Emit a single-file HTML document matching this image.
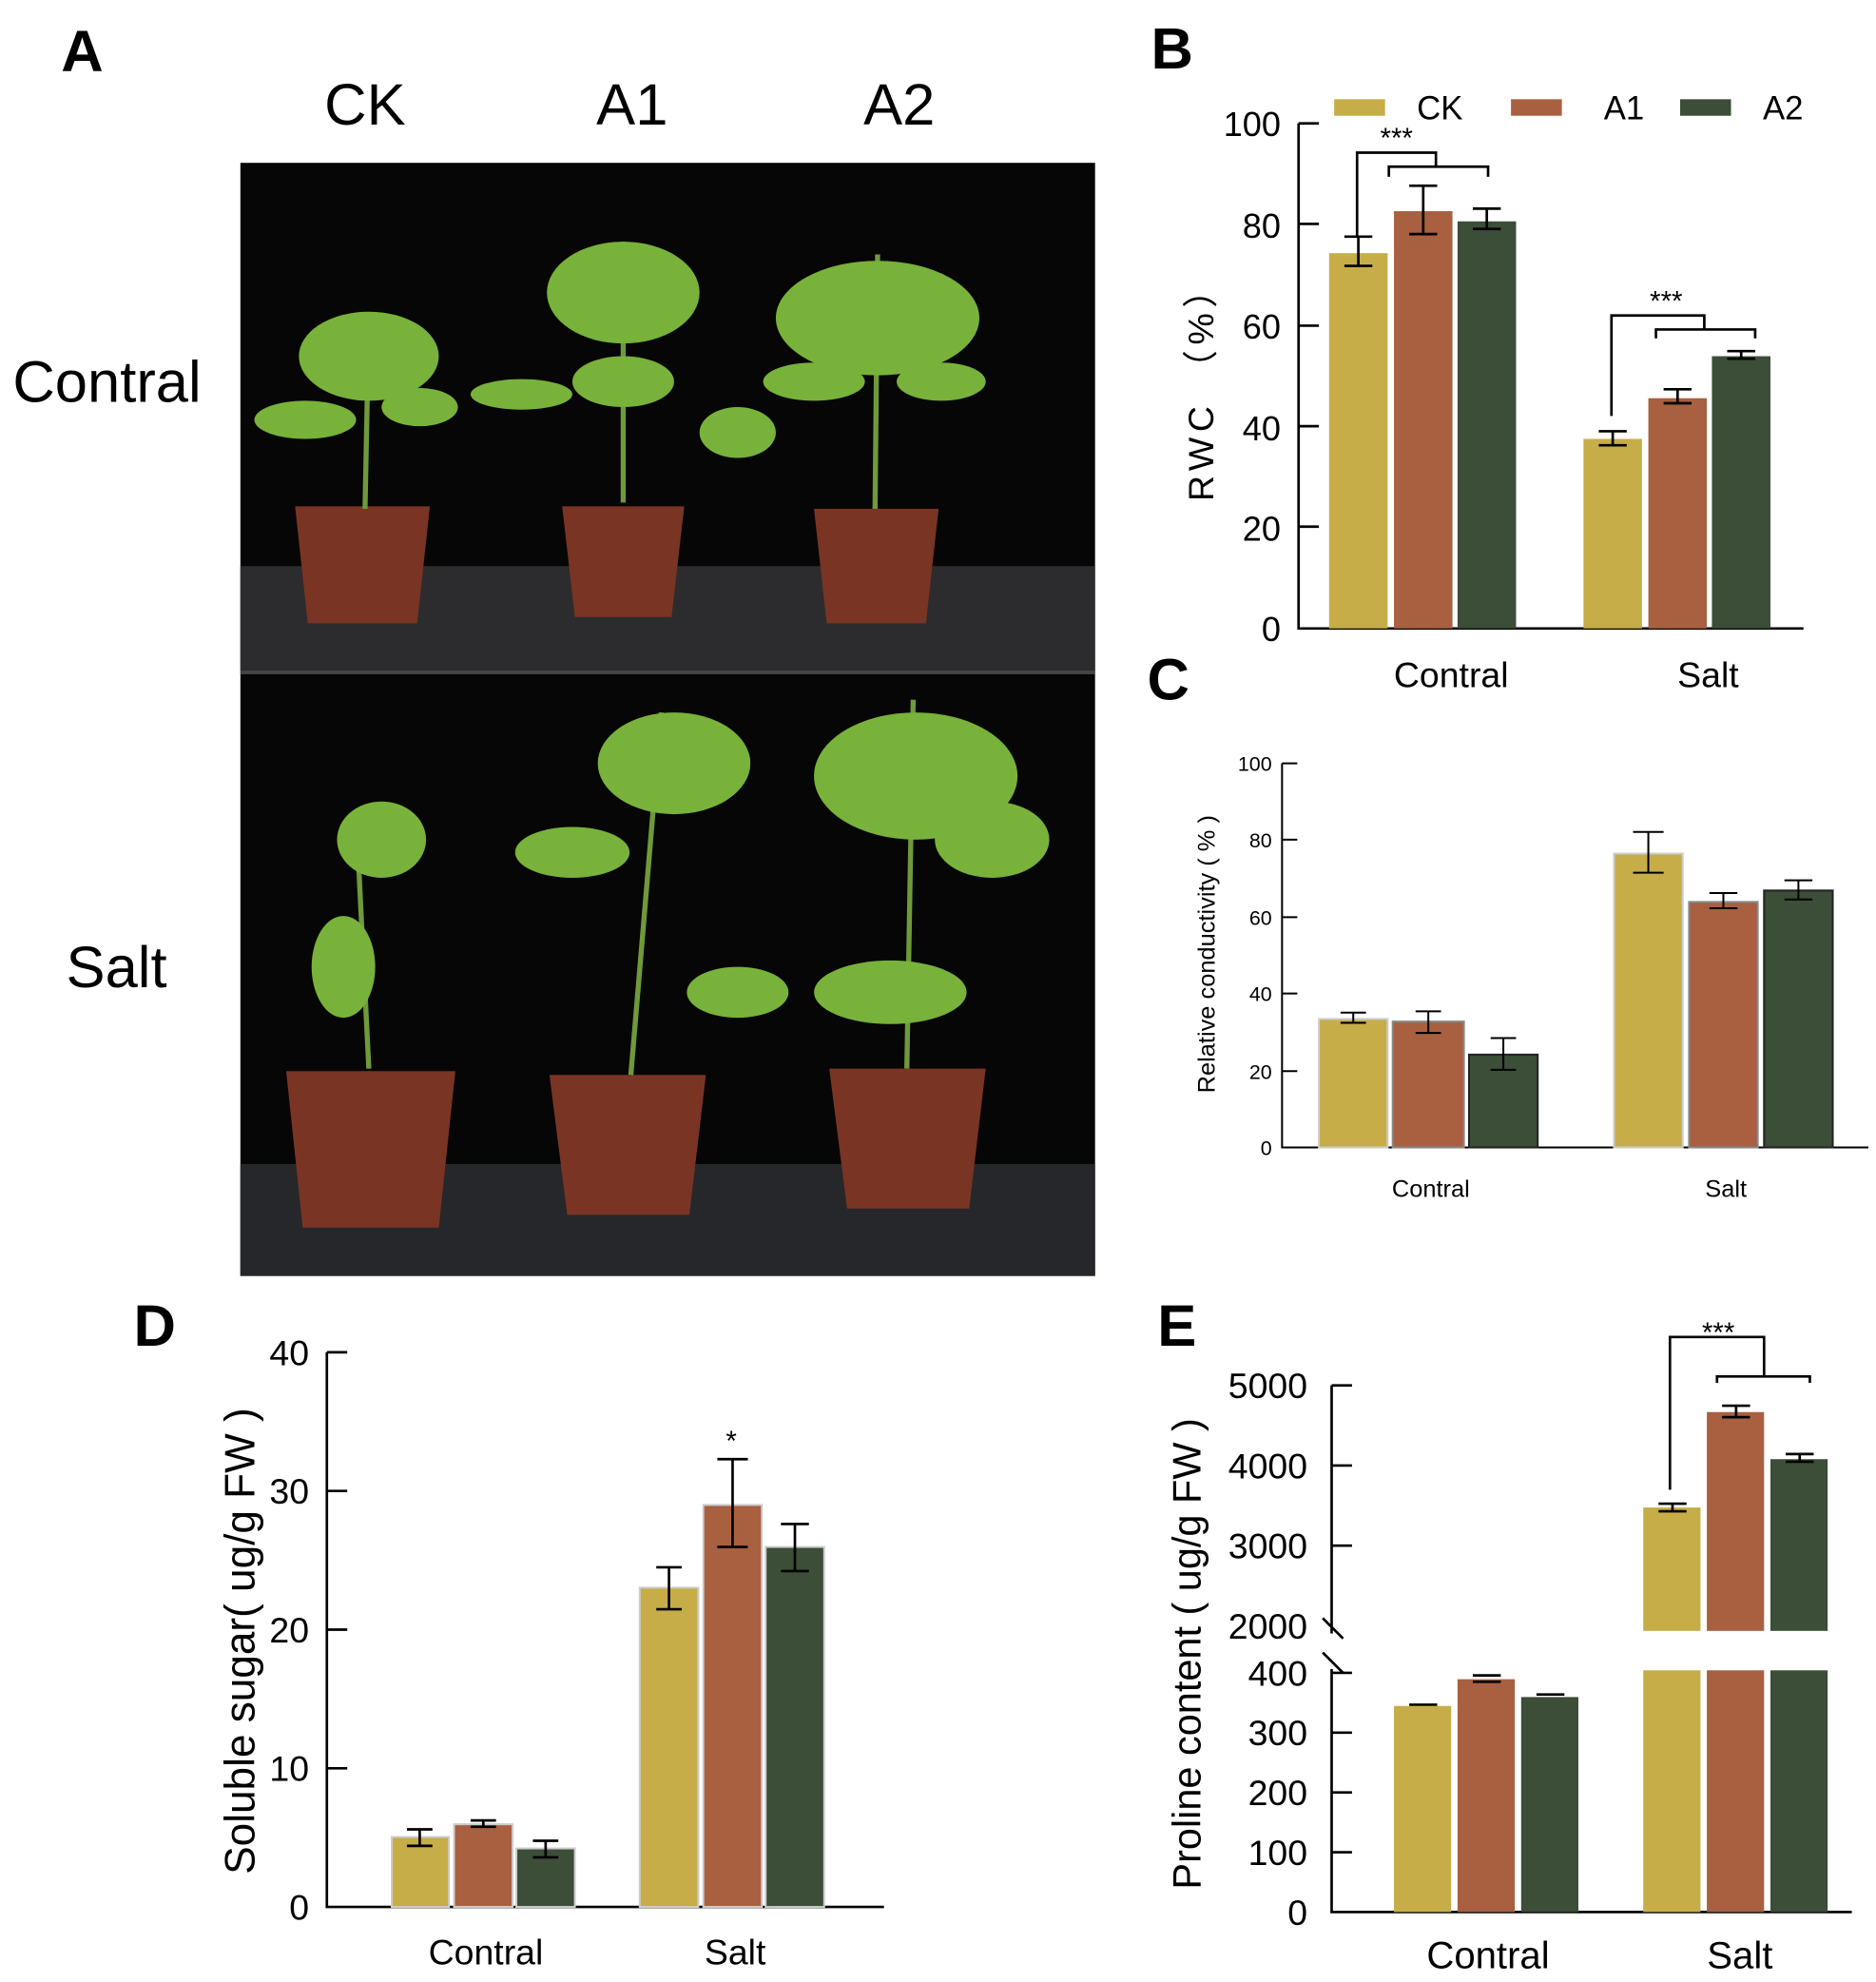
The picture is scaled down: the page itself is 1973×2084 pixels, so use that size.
<!DOCTYPE html>
<html><head><meta charset="utf-8"><style>html,body{margin:0;padding:0;background:#fff}svg{display:block}</style></head>
<body>
<svg width="1973" height="2084" viewBox="0 0 1475 1558" preserveAspectRatio="none" font-family="Liberation Sans, Noto Sans CJK SC, sans-serif">
<rect width="1475" height="1558" fill="#fff"/>
<!-- Panel A -->
<text x="48" y="56" font-size="46" font-weight="bold">A</text>
<text x="287" y="98" font-size="46" text-anchor="middle">CK</text>
<text x="497" y="98" font-size="46" text-anchor="middle">A1</text>
<text x="707" y="98" font-size="46" text-anchor="middle">A2</text>
<text x="10" y="316" font-size="46">Contral</text>
<text x="52" y="776" font-size="46">Salt</text>
<rect x="189" y="128" width="672" height="875" fill="#060606"/>
<rect x="189" y="445" width="672" height="82" fill="#2c2c2e"/>
<rect x="189" y="527" width="672" height="3" fill="#444"/>
<rect x="189" y="915" width="672" height="88" fill="#26272a"/>
<g fill="#7a3424">
<path d="M232 398 L338 398 L328 490 L242 490Z"/><path d="M442 398 L538 398 L528 485 L452 485Z"/><path d="M640 400 L738 400 L728 490 L650 490Z"/>
<path d="M225 842 L358 842 L345 965 L238 965Z"/><path d="M432 845 L555 845 L542 955 L446 955Z"/><path d="M652 840 L775 840 L762 950 L666 950Z"/>
</g>
<g stroke="#6f9a3a" stroke-width="4" fill="none">
<path d="M287 400 L290 250"/><path d="M490 395 L490 190"/><path d="M688 400 L690 200"/>
<path d="M290 840 L280 640"/><path d="M496 845 L520 560"/><path d="M713 840 L718 550"/>
</g>
<g fill="#78b23a">
<ellipse cx="290" cy="280" rx="55" ry="35"/><ellipse cx="240" cy="330" rx="40" ry="15"/><ellipse cx="330" cy="320" rx="30" ry="15"/>
<ellipse cx="490" cy="230" rx="60" ry="40"/><ellipse cx="410" cy="310" rx="40" ry="12"/><ellipse cx="580" cy="340" rx="30" ry="20"/><ellipse cx="490" cy="300" rx="40" ry="20"/>
<ellipse cx="690" cy="250" rx="80" ry="45"/><ellipse cx="640" cy="300" rx="40" ry="15"/><ellipse cx="740" cy="300" rx="35" ry="15"/>
<ellipse cx="300" cy="660" rx="35" ry="30"/><ellipse cx="270" cy="760" rx="25" ry="40"/>
<ellipse cx="530" cy="600" rx="60" ry="40"/><ellipse cx="450" cy="670" rx="45" ry="20"/><ellipse cx="580" cy="780" rx="40" ry="20"/>
<ellipse cx="720" cy="610" rx="80" ry="50"/><ellipse cx="780" cy="660" rx="45" ry="30"/><ellipse cx="700" cy="780" rx="60" ry="25"/>
</g>
<!-- Panel B -->
<text x="905" y="54" font-size="46" font-weight="bold">B</text>
<g font-size="27" text-anchor="end">
<text x="1007" y="107">100</text><text x="1007" y="187">80</text><text x="1007" y="266">60</text><text x="1007" y="346">40</text><text x="1007" y="425">20</text><text x="1007" y="504">0</text>
</g>
<path d="M1021 97 V494 H1418" stroke="#000" stroke-width="2" fill="none"/>
<g stroke="#000" stroke-width="2"><path d="M1021 97h16M1021 176h16M1021 256h16M1021 335h16M1021 414h16"/></g>
<text transform="translate(954,304) rotate(-90)" font-size="28" text-anchor="middle" textLength="180" lengthAdjust="spacing">RWC （%）</text>
<rect x="1049" y="78" width="40" height="13" fill="#c6ad48"/><text x="1114" y="94" font-size="26">CK</text>
<rect x="1188" y="78" width="40" height="13" fill="#a86040"/><text x="1261" y="94" font-size="26">A1</text>
<rect x="1321" y="78" width="40" height="13" fill="#3c4d38"/><text x="1386" y="94" font-size="26">A2</text>
<rect x="1045" y="199" width="46" height="295" fill="#c6ad48"/>
<rect x="1096" y="166" width="46" height="328" fill="#a86040"/>
<rect x="1146" y="174" width="46" height="320" fill="#3c4d38"/>
<rect x="1245" y="345" width="46" height="149" fill="#c6ad48"/>
<rect x="1296" y="313" width="46" height="181" fill="#a86040"/>
<rect x="1346" y="280" width="46" height="214" fill="#3c4d38"/>
<g stroke="#000" stroke-width="2" fill="none">
<path d="M1068 186V209M1057 186h22M1057 209h22"/><path d="M1119 146V184M1108 146h22M1108 184h22"/><path d="M1169 164V180M1158 164h22M1158 180h22"/>
<path d="M1268 339V350M1257 339h22M1257 350h22"/><path d="M1319 306V317M1308 306h22M1308 317h22"/><path d="M1369 276V282M1358 276h22M1358 282h22"/>
<path d="M1067 186V120H1129V131M1092 139V131H1170V139"/>
<path d="M1267 327V248H1340V259M1302 266V259H1380V266"/>
</g>
<text x="1098" y="116" font-size="22" text-anchor="middle">***</text>
<text x="1310" y="244" font-size="22" text-anchor="middle">***</text>
<text x="1141" y="540" font-size="28" text-anchor="middle">Contral</text>
<text x="1343" y="540" font-size="28" text-anchor="middle">Salt</text>
<!-- Panel C -->
<text x="902" y="550" font-size="46" font-weight="bold">C</text>
<path d="M1008 600 V902 H1469" stroke="#000" stroke-width="1.5" fill="none"/>
<g stroke="#000" stroke-width="1.5"><path d="M1008 600h12M1008 660h12M1008 721h12M1008 781h12M1008 842h12"/></g>
<g font-size="16" text-anchor="end">
<text x="1000" y="606">100</text><text x="1000" y="666">80</text><text x="1000" y="727">60</text><text x="1000" y="787">40</text><text x="1000" y="848">20</text><text x="1000" y="908">0</text>
</g>
<text transform="translate(955,750) rotate(-90)" font-size="19" text-anchor="middle">Relative conductivity ( % )</text>
<g stroke="#ccc" stroke-width="1.5">
<rect x="1037" y="801" width="54" height="101" fill="#c6ad48"/>
<rect x="1095" y="803" width="56" height="99" fill="#a86040" stroke="#888"/>
<rect x="1155" y="829" width="54" height="73" fill="#3c4d38" stroke="#222"/>
<rect x="1269" y="671" width="54" height="231" fill="#c6ad48"/>
<rect x="1328" y="709" width="54" height="193" fill="#a86040" stroke="#888"/>
<rect x="1387" y="700" width="54" height="202" fill="#3c4d38" stroke="#222"/>
</g>
<g stroke="#000" stroke-width="1.5" fill="none">
<path d="M1064 796V804M1054 796h20M1054 804h20"/><path d="M1123 795V812M1113 795h20M1113 812h20"/><path d="M1182 816V841M1172 816h20M1172 841h20"/>
<path d="M1296 654V686M1284 654h24M1284 686h24"/><path d="M1355 702V714M1344 702h22M1344 714h22"/><path d="M1414 692V707M1403 692h22M1403 707h22"/>
</g>
<text x="1125" y="941" font-size="19" text-anchor="middle">Contral</text>
<text x="1357" y="941" font-size="19" text-anchor="middle">Salt</text>
<!-- Panel D -->
<text x="105" y="1058" font-size="46" font-weight="bold">D</text>
<path d="M257 1063 V1499 H695" stroke="#000" stroke-width="2" fill="none"/>
<g stroke="#000" stroke-width="2"><path d="M257 1063h16M257 1172h16M257 1281h16M257 1390h16"/></g>
<g font-size="28" text-anchor="end">
<text x="243" y="1073">40</text><text x="243" y="1182">30</text><text x="243" y="1291">20</text><text x="243" y="1400">10</text><text x="243" y="1509">0</text>
</g>
<text transform="translate(200,1290) rotate(-90)" font-size="33" text-anchor="middle">Soluble sugar( ug/g FW )</text>
<g stroke="#ccc" stroke-width="1.5">
<rect x="308" y="1444" width="45" height="55" fill="#c6ad48"/>
<rect x="357" y="1434" width="46" height="65" fill="#a86040"/>
<rect x="406" y="1453" width="46" height="46" fill="#3c4d38"/>
<rect x="503" y="1248" width="46" height="251" fill="#c6ad48"/>
<rect x="553" y="1183" width="46" height="316" fill="#a86040"/>
<rect x="602" y="1216" width="46" height="283" fill="#3c4d38"/>
</g>
<g stroke="#000" stroke-width="2" fill="none">
<path d="M330 1438V1451M320 1438h20M320 1451h20"/><path d="M380 1431V1436M370 1431h20M370 1436h20"/><path d="M429 1447V1460M419 1447h20M419 1460h20"/>
<path d="M526 1232V1265M516 1232h20M516 1265h20"/><path d="M576 1147V1216M564 1147h24M564 1216h24"/><path d="M625 1198V1235M614 1198h22M614 1235h22"/>
</g>
<text x="575" y="1140" font-size="22" text-anchor="middle">*</text>
<text x="382" y="1544" font-size="28" text-anchor="middle">Contral</text>
<text x="578" y="1544" font-size="28" text-anchor="middle">Salt</text>
<!-- Panel E -->
<text x="910" y="1058" font-size="46" font-weight="bold">E</text>
<g stroke="#000" stroke-width="2" fill="none">
<path d="M1047 1089V1284M1047 1312V1503H1456"/>
<path d="M1047 1089h16M1047 1152h16M1047 1215h16M1047 1315h16M1047 1362h16M1047 1409h16M1047 1456h16"/>
<path d="M1040 1272l16 16M1040 1299l16 16"/>
</g>
<g font-size="28" text-anchor="end">
<text x="1028" y="1099">5000</text><text x="1028" y="1162">4000</text><text x="1028" y="1225">3000</text><text x="1028" y="1288">2000</text>
<text x="1028" y="1325">400</text><text x="1028" y="1372">300</text><text x="1028" y="1419">200</text><text x="1028" y="1466">100</text><text x="1028" y="1513">0</text>
</g>
<text transform="translate(944,1300) rotate(-90)" font-size="31" text-anchor="middle">Proline content ( ug/g FW )</text>
<rect x="1096" y="1341" width="45" height="162" fill="#c6ad48"/>
<rect x="1146" y="1320" width="45" height="183" fill="#a86040"/>
<rect x="1196" y="1334" width="45" height="169" fill="#3c4d38"/>
<rect x="1292" y="1313" width="45" height="190" fill="#c6ad48"/>
<rect x="1342" y="1313" width="45" height="190" fill="#a86040"/>
<rect x="1392" y="1313" width="45" height="190" fill="#3c4d38"/>
<rect x="1292" y="1185" width="45" height="97" fill="#c6ad48"/>
<rect x="1342" y="1110" width="45" height="172" fill="#a86040"/>
<rect x="1392" y="1147" width="45" height="135" fill="#3c4d38"/>
<g stroke="#000" stroke-width="2" fill="none">
<path d="M1108 1340h22"/><path d="M1158 1317h22M1158 1322h22"/><path d="M1208 1332h22"/>
<path d="M1304 1182h22M1304 1188h22M1315 1182v6"/><path d="M1354 1105h22M1354 1114h22M1365 1105v9"/><path d="M1404 1143h22M1404 1149h22M1415 1143v6"/>
<path d="M1313 1171V1051H1387V1082M1350 1087V1082H1423V1087"/>
</g>
<text x="1351" y="1055" font-size="22" text-anchor="middle">***</text>
<text x="1170" y="1547" font-size="30" text-anchor="middle">Contral</text>
<text x="1368" y="1547" font-size="30" text-anchor="middle">Salt</text>
</svg>
</body></html>
